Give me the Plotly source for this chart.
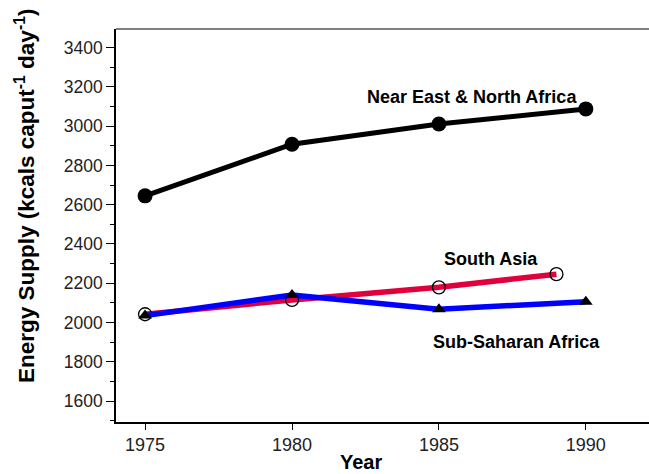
import plotly.graph_objects as go

# Per-capita daily energy supply by region
years_ne = [1975, 1980, 1985, 1990]
near_east = [2645, 2908, 3011, 3088]

years_sa = [1975, 1980, 1985, 1989]
south_asia = [2042, 2115, 2179, 2246]

years_ssa = [1975, 1980, 1985, 1990]
sub_saharan = [2035, 2140, 2067, 2106]

x_ticks = [1975, 1980, 1985, 1990]
y_ticks = [1600, 1800, 2000, 2200, 2400, 2600, 2800, 3000, 3200, 3400]

FONT = "Arial, Liberation Sans, sans-serif"

fig = go.Figure()

fig.add_trace(go.Scatter(
    x=years_ne, y=near_east, mode="lines+markers",
    line=dict(color="black", width=5),
    marker=dict(symbol="circle", size=15, color="black"),
    name="Near East & North Africa",
))
fig.add_trace(go.Scatter(
    x=years_sa, y=south_asia, mode="lines+markers",
    line=dict(color="#e0003c", width=5.5),
    marker=dict(symbol="circle-open", size=13, color="black", line=dict(width=1.3)),
    name="South Asia",
))
fig.add_trace(go.Scatter(
    x=years_ssa, y=sub_saharan, mode="lines+markers",
    line=dict(color="#0000ff", width=5.5),
    marker=dict(symbol="triangle-up", size=12, color="black"),
    name="Sub-Saharan Africa",
))

labels = [
    ("Near East & North Africa", 1986.12, 3150),
    ("South Asia", 1986.77, 2324),
    ("Sub-Saharan Africa", 1987.65, 1902),
]
annotations = [
    dict(text="<b>%s</b>" % t, x=x, y=y, xref="x", yref="y", showarrow=False,
         font=dict(family=FONT, size=18, color="black"), xanchor="center", yanchor="middle")
    for t, x, y in labels
]
annotations.append(dict(
    text="<b>Energy Supply (kcals caput<sup>-1</sup> day<sup>-1</sup>)</b>",
    x=(25 - 116) / 533, y=(422 - 196) / 393, xref="paper", yref="paper",
    textangle=-90, showarrow=False, xanchor="center", yanchor="middle",
    font=dict(family=FONT, size=22.5, color="black"),
))
annotations.append(dict(
    text="<b>Year</b>", x=(361 - 116) / 533, y=-(462 - 422) / 393,
    xref="paper", yref="paper", showarrow=False, xanchor="center", yanchor="middle",
    font=dict(family=FONT, size=20, color="black"),
))

shapes = [
    # gray top edge of the frame
    dict(type="line", xref="paper", yref="paper", x0=0, x1=1, y0=1, y1=1,
         line=dict(color="#555555", width=1.5)),
    # keep the right side of the frame open
    dict(type="rect", xref="paper", yref="paper", x0=0.99, x1=1.01, y0=0.004, y1=0.996,
         fillcolor="white", line=dict(width=0), layer="above"),
]

fig.update_layout(
    width=649, height=474,
    margin=dict(l=116, r=0, t=29, b=52, pad=0),
    paper_bgcolor="white", plot_bgcolor="white",
    showlegend=False,
    annotations=annotations,
    shapes=shapes,
    xaxis=dict(
        range=[1974.01, 1992.15], tickvals=x_ticks, ticks="outside", ticklen=6,
        tickcolor="black", showline=True, linecolor="black", linewidth=1.5,
        showgrid=False, zeroline=False,
        tickfont=dict(family=FONT, size=18, color="#222"),
    ),
    yaxis=dict(
        range=[1493, 3495], tickvals=y_ticks, ticks="outside", ticklen=8,
        tickcolor="black", showline=True, linecolor="black", linewidth=1.5,
        showgrid=False, zeroline=False, ticksuffix="\u00a0\u00a0",
        tickfont=dict(family=FONT, size=17.5, color="#222"),
        minor=dict(ticks="outside", ticklen=4, dtick=100, tickcolor="black"),
    ),
)

fig.write_html("out.html", config={"displayModeBar": False})
